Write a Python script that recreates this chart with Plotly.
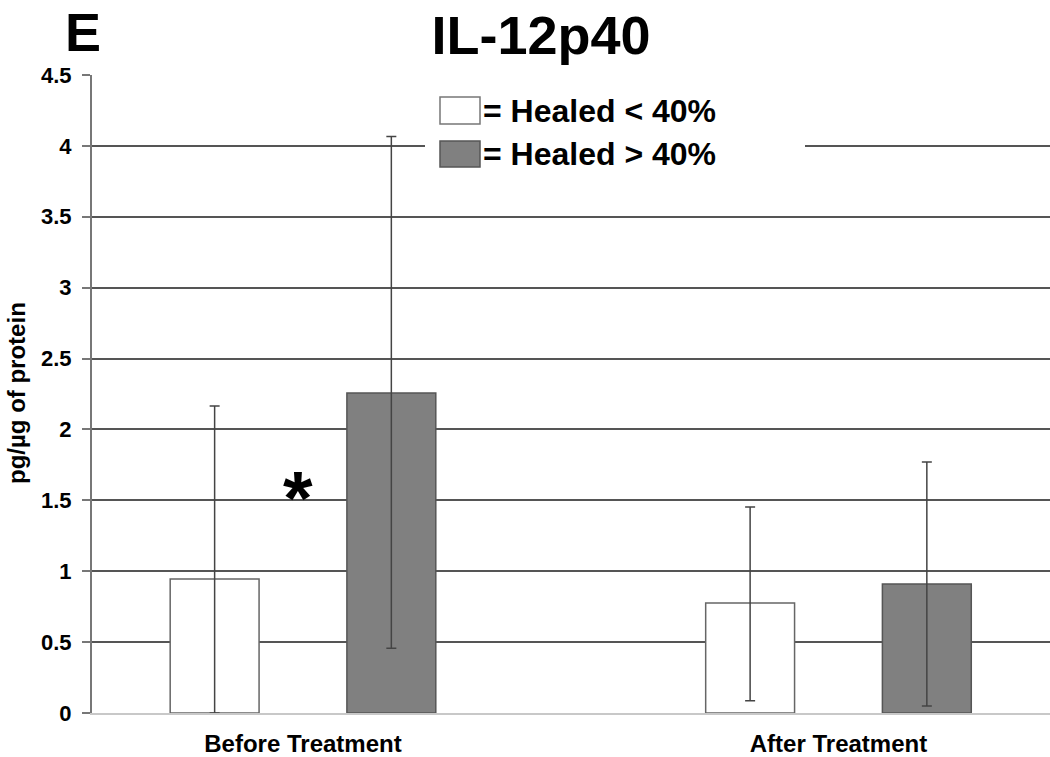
import plotly.graph_objects as go

categories = ["Before Treatment", "After Treatment"]
healed_lt40 = [0.945, 0.776]
healed_lt40_err_plus = [1.22, 0.677]
healed_lt40_err_minus = [0.945, 0.69]
healed_gt40 = [2.257, 0.91]
healed_gt40_err_plus = [1.81, 0.86]
healed_gt40_err_minus = [1.80, 0.86]
y_ticks = [0, 0.5, 1, 1.5, 2, 2.5, 3, 3.5, 4, 4.5]
y_ticklabels = ["0", "0.5", "1", "1.5", "2", "2.5", "3", "3.5", "4", "4.5"]
legend_labels = ["= Healed &lt; 40%", "= Healed &gt; 40%"]

W, H = 1050, 757
L, R, T, B = 92, 0, 75, 44
pw, ph = W - L - R, H - T - B

def px(x):
    return (x - L) / pw

def py(y):
    return (H - B - y) / ph

fig = go.Figure()
fig.add_trace(go.Bar(
    x=categories, y=healed_lt40, name="Healed < 40%",
    width=0.166, offset=-0.248,
    marker=dict(color="white", line=dict(color="#666666", width=1.5)),
    error_y=dict(type="data", symmetric=False, array=healed_lt40_err_plus,
                 arrayminus=healed_lt40_err_minus, color="#444444", thickness=1.5, width=5),
    showlegend=False,
))
fig.add_trace(go.Bar(
    x=categories, y=healed_gt40, name="Healed > 40%",
    width=0.166, offset=0.082,
    marker=dict(color="#808080", line=dict(color="#555555", width=1.5)),
    error_y=dict(type="data", symmetric=False, array=healed_gt40_err_plus,
                 arrayminus=healed_gt40_err_minus, color="#444444", thickness=1.5, width=5),
    showlegend=False,
))

font_family = "Liberation Sans, Arial, sans-serif"
shapes = [
    dict(type="rect", xref="paper", yref="paper", x0=px(425), x1=px(805), y0=py(180), y1=py(88),
         fillcolor="white", line=dict(width=0), layer="above"),
    dict(type="rect", xref="paper", yref="paper", x0=px(440), x1=px(480), y0=py(124), y1=py(97),
         fillcolor="white", line=dict(color="#777777", width=1.5), layer="above"),
    dict(type="rect", xref="paper", yref="paper", x0=px(440), x1=px(480), y0=py(167), y1=py(141),
         fillcolor="#808080", line=dict(color="#555555", width=1.5), layer="above"),
]
annotations = [
    dict(text="<b>" + legend_labels[0] + "</b>", xref="paper", yref="paper", x=px(481), y=py(111),
         xanchor="left", yanchor="middle", showarrow=False,
         font=dict(family=font_family, size=32, color="black")),
    dict(text="<b>" + legend_labels[1] + "</b>", xref="paper", yref="paper", x=px(481), y=py(154),
         xanchor="left", yanchor="middle", showarrow=False,
         font=dict(family=font_family, size=32, color="black")),
    dict(text="<b>E</b>", xref="paper", yref="paper", x=px(63), y=py(0),
         xanchor="left", yanchor="top", showarrow=False,
         font=dict(family=font_family, size=54, color="black")),
    dict(text="<b>*</b>", xref="paper", yref="paper", x=px(298), y=py(497),
         xanchor="center", yanchor="middle", showarrow=False,
         font=dict(family=font_family, size=76, color="black")),
    dict(text="<b>pg/µg of protein</b>", xref="paper", yref="paper", x=px(16), y=py(393),
         xanchor="center", yanchor="middle", showarrow=False, textangle=-90,
         font=dict(family=font_family, size=24, color="black")),
]

fig.update_layout(
    width=W, height=H,
    margin=dict(l=L, r=R, t=T, b=B, pad=0, autoexpand=False),
    paper_bgcolor="white", plot_bgcolor="white",
    title=dict(text="<b>IL-12p40</b>", x=px(541), xanchor="center", xref="paper",
               y=1 - 35 / H, yanchor="middle",
               font=dict(family=font_family, size=54, color="black")),
    barmode="group",
    shapes=shapes,
    annotations=annotations,
    font=dict(family=font_family, color="black"),
)
fig.update_xaxes(
    range=[-0.394, 1.395], showgrid=False, zeroline=False,
    showline=True, linecolor="#c8c8c8", linewidth=2,
    ticks="", tickfont=dict(family=font_family, size=24, color="black"),
    tickprefix="<b>", ticksuffix="</b>", ticklabelstandoff=8,
)
fig.update_yaxes(
    range=[0, 4.5], tickvals=y_ticks, ticktext=["<b>" + t + "</b>" for t in y_ticklabels],
    showgrid=True, gridcolor="#555555", gridwidth=1.5,
    zeroline=False, showline=True, linecolor="#777777", linewidth=2,
    ticks="outside", ticklen=8, tickcolor="#777777", tickwidth=1.5,
    tickfont=dict(family=font_family, size=22, color="black"), ticklabelstandoff=6,
)

fig.write_html("out.html", config={"displayModeBar": False},
               post_script="document.body.style.margin='0';document.body.style.padding='0';")
